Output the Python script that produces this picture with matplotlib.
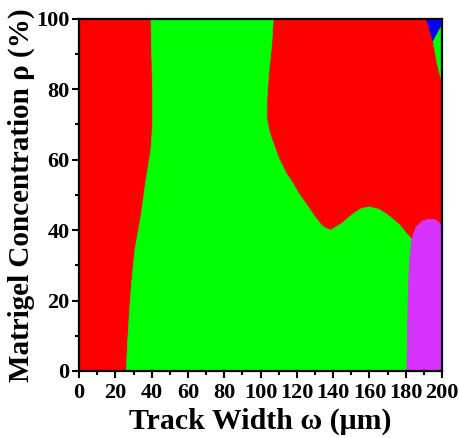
import matplotlib
matplotlib.use("Agg")
import matplotlib.pyplot as plt
from matplotlib.ticker import MultipleLocator

# phase boundaries (x = track width um, y = matrigel %)
# red | green boundary on the left, bottom -> top
left_x = [26, 26.5, 27.6, 28.9, 30.8, 34.1, 36.6, 39.6, 40.5, 40.5, 40.0, 39.6]
left_y = [0, 6, 15.7, 25, 34.6, 44, 53.4, 63, 70, 80, 90, 100]

# green | red boundary in the middle, top -> triple point with magenta
mid_x = [107, 106.2, 104.4, 103.5, 103.5, 105, 107.7, 110.4, 114, 117.7, 121.4,
         126, 129.7, 133.3, 135.2, 138.8, 145.2, 150.7, 155.3, 159.9, 165.4,
         170.9, 176.4, 180.9, 183.3]
mid_y = [100, 93, 84, 77, 71.4, 67.6, 63.8, 60, 56.3, 53.4, 50.1,
         46.8, 44, 41.6, 40.7, 40.0, 42.1, 44.5, 46.1, 46.6, 45.9,
         44, 41.6, 38.8, 37.4]

# magenta region: left edge (triple point -> bottom) and top edge (triple point -> right)
mag_left_x = [183.3, 181.9, 181.3, 181.0, 180.6]
mag_left_y = [37.4, 29.8, 20.4, 11, 0]
mag_top_x = [183.3, 185.5, 189.2, 192.9, 196.5, 198.7, 200]
mag_top_y = [37.4, 40.7, 42.6, 43.1, 42.9, 41.9, 40.5]

# top-right corner: blue wedge and thin green sliver
blue_x = [191.3, 200, 200, 195]
blue_y = [100, 100, 98.3, 93.6]
sliver_x = [195, 200, 200, 198, 196.5]
sliver_y = [93.6, 98.3, 82, 85.5, 89.3]

RED = "#ff0000"
GREEN = "#00ff00"
BLUE = "#0000ff"
MAGENTA = "#d633ff"

plt.rcParams["font.family"] = ["Liberation Serif", "DejaVu Serif"]
plt.rcParams["font.weight"] = "bold"

fig = plt.figure(figsize=(4.6, 4.38), dpi=100)
ax = fig.add_axes([0.172, 0.153, 0.789, 0.804])

ax.fill([0, 200, 200, 0], [0, 0, 100, 100], color=RED, lw=0)

green_x = left_x + mid_x + mag_left_x[1:]
green_y = left_y + mid_y + mag_left_y[1:]
ax.fill(green_x, green_y, fc=GREEN, ec=GREEN, lw=0.5)

mag_x = mag_left_x[::-1] + mag_top_x[1:] + [200]
mag_y = mag_left_y[::-1] + mag_top_y[1:] + [0]
ax.fill(mag_x, mag_y, fc=MAGENTA, ec=MAGENTA, lw=0.5)

ax.fill(blue_x, blue_y, fc=BLUE, ec=BLUE, lw=0.3)
ax.fill(sliver_x, sliver_y, fc=GREEN, ec=GREEN, lw=0.3)

ax.set_xlim(0, 200)
ax.set_ylim(0, 100)
ax.xaxis.set_major_locator(MultipleLocator(20))
ax.xaxis.set_minor_locator(MultipleLocator(10))
ax.yaxis.set_major_locator(MultipleLocator(20))
ax.yaxis.set_minor_locator(MultipleLocator(10))
ax.tick_params(which="major", length=5, width=1.5, labelsize=16, pad=2)
ax.tick_params(axis="x", which="major", pad=4)
ax.tick_params(which="minor", length=3, width=1.5)
for sp in ax.spines.values():
    sp.set_linewidth(1.6)
    sp.set_zorder(5)

ax.set_xlabel("Track Width ω (μm)", fontsize=21.5, fontweight="bold", labelpad=3)
ax.set_ylabel("Matrigel Concentration ρ (%)", fontsize=21, fontweight="bold", labelpad=1)

fig.savefig("out.png", dpi=100)
